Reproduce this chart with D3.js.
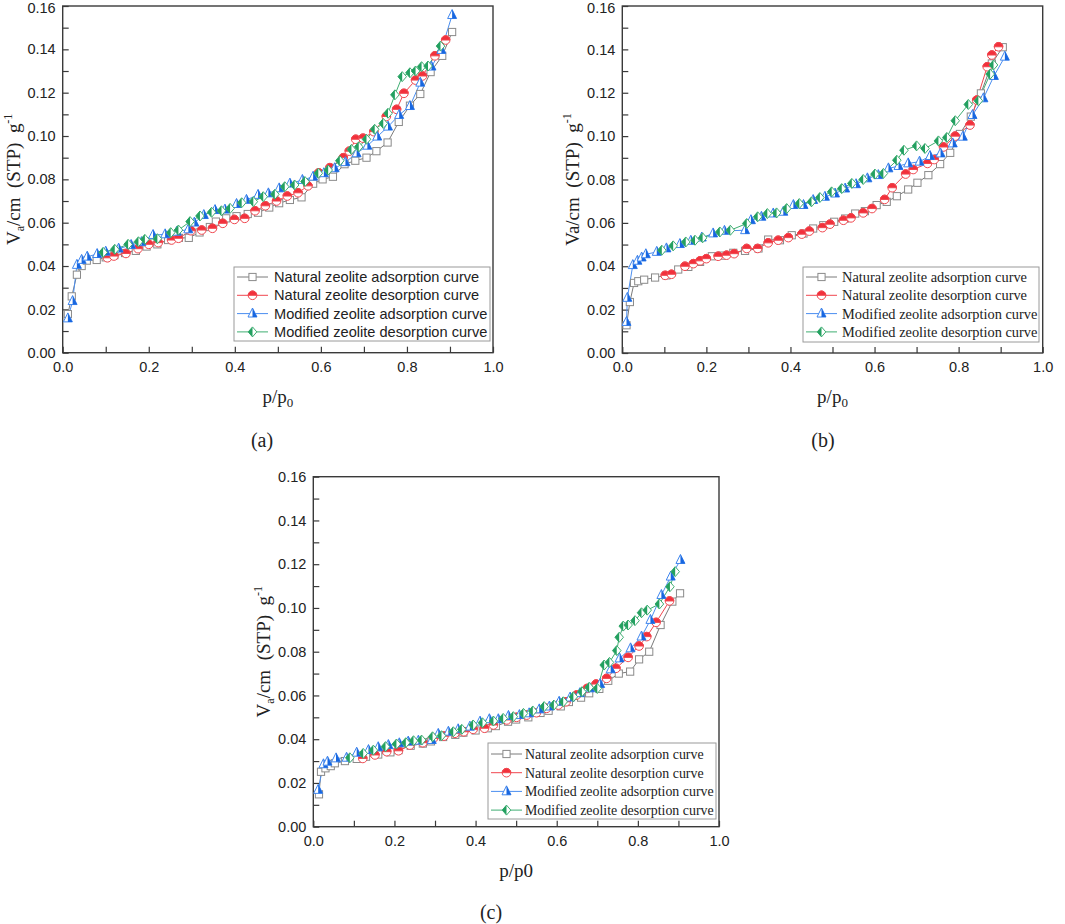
<!DOCTYPE html>
<html><head><meta charset="utf-8">
<script src="https://cdn.jsdelivr.net/npm/d3@7/dist/d3.min.js"></script>
<style>body{margin:0;background:#fff;} svg{display:block;background:#fff;}</style>
</head><body>
<svg id="chart" width="1065" height="924"></svg>
<script>
// ---------------- DATA ----------------
const seriesNames = ["Natural zeolite adsorption curve", "Natural zeolite desorption curve",
  "Modified zeolite adsorption curve", "Modified zeolite desorption curve"];
const xTickValues = [0, 0.2, 0.4, 0.6, 0.8, 1.0];
const xTickLabels = ["0.0", "0.2", "0.4", "0.6", "0.8", "1.0"];
const yTickValues = [0, 0.02, 0.04, 0.06, 0.08, 0.10, 0.12, 0.14, 0.16];
const yTickLabels = ["0.00", "0.02", "0.04", "0.06", "0.08", "0.10", "0.12", "0.14", "0.16"];
const panelCaptions = ["(a)", "(b)", "(c)"];

// panel (a)
const aNaturalAds = [[0.012,0.0178],[0.021,0.026],[0.033,0.036],[0.044,0.040],[0.056,0.0425],[0.079,0.0428],[0.10,0.044],[0.12,0.045],[0.145,0.046],[0.17,0.047],[0.195,0.049],[0.22,0.050],[0.245,0.052],[0.27,0.053],[0.293,0.053],[0.318,0.0555],[0.342,0.058],[0.356,0.0605],[0.38,0.062],[0.404,0.063],[0.43,0.064],[0.454,0.0646],[0.48,0.067],[0.503,0.069],[0.528,0.0705],[0.555,0.0717],[0.582,0.078],[0.604,0.080],[0.628,0.0812],[0.655,0.087],[0.680,0.0886],[0.706,0.090],[0.729,0.093],[0.755,0.097],[0.781,0.1065],[0.807,0.114],[0.831,0.1194],[0.855,0.1295],[0.882,0.137],[0.905,0.148]];
const aNaturalDes = [[0.104,0.0438],[0.119,0.0446],[0.147,0.0458],[0.175,0.048],[0.2,0.050],[0.222,0.0508],[0.253,0.052],[0.269,0.0528],[0.298,0.0563],[0.323,0.0566],[0.348,0.0574],[0.372,0.0597],[0.399,0.0615],[0.423,0.062],[0.447,0.0655],[0.471,0.0678],[0.497,0.070],[0.522,0.0723],[0.547,0.0738],[0.57,0.077],[0.595,0.083],[0.621,0.0854],[0.652,0.090],[0.666,0.093],[0.681,0.0985],[0.698,0.099],[0.723,0.102],[0.752,0.109],[0.776,0.1123],[0.793,0.1197],[0.820,0.1258],[0.836,0.1277],[0.865,0.137],[0.890,0.1443]];
const aModifiedAds = [[0.012,0.0158],[0.023,0.0238],[0.033,0.0405],[0.044,0.0428],[0.057,0.0443],[0.080,0.0455],[0.10,0.0466],[0.13,0.048],[0.159,0.0497],[0.183,0.051],[0.21,0.0543],[0.238,0.0546],[0.265,0.0558],[0.292,0.0569],[0.306,0.060],[0.328,0.0635],[0.354,0.0658],[0.377,0.066],[0.404,0.0686],[0.427,0.0705],[0.454,0.0728],[0.478,0.0735],[0.503,0.0758],[0.528,0.078],[0.557,0.0797],[0.582,0.0812],[0.607,0.0828],[0.632,0.0851],[0.657,0.0879],[0.683,0.092],[0.708,0.0955],[0.731,0.0997],[0.756,0.1043],[0.782,0.1097],[0.807,0.1138],[0.831,0.1246],[0.857,0.132],[0.88,0.1397],[0.905,0.1558]];
const aModifiedDes = [[0.094,0.0463],[0.121,0.0477],[0.152,0.050],[0.176,0.0512],[0.191,0.0523],[0.22,0.0526],[0.251,0.0554],[0.269,0.0566],[0.296,0.0605],[0.319,0.0631],[0.346,0.0648],[0.369,0.0655],[0.389,0.0666],[0.416,0.0692],[0.443,0.0697],[0.466,0.072],[0.493,0.0731],[0.516,0.0766],[0.539,0.0774],[0.563,0.079],[0.594,0.0828],[0.617,0.0843],[0.644,0.0886],[0.671,0.0938],[0.688,0.095],[0.706,0.0985],[0.725,0.1031],[0.745,0.1058],[0.756,0.1105],[0.772,0.119],[0.789,0.1274],[0.807,0.1292],[0.82,0.130],[0.834,0.132],[0.849,0.1323],[0.878,0.1415]];

// panel (b)
const bNaturalAds = [[0.010,0.0128],[0.018,0.0235],[0.028,0.0323],[0.038,0.0331],[0.052,0.0338],[0.078,0.0348],[0.105,0.0358],[0.133,0.0385],[0.157,0.0397],[0.185,0.042],[0.213,0.0446],[0.236,0.0449],[0.264,0.0462],[0.292,0.0471],[0.324,0.0482],[0.347,0.0523],[0.375,0.052],[0.403,0.0543],[0.431,0.0551],[0.454,0.0574],[0.478,0.0589],[0.504,0.0605],[0.53,0.062],[0.554,0.0643],[0.577,0.0654],[0.605,0.0682],[0.629,0.0697],[0.653,0.0723],[0.68,0.0754],[0.702,0.0785],[0.728,0.082],[0.756,0.0871],[0.78,0.0923],[0.803,0.101],[0.829,0.109],[0.853,0.1197],[0.879,0.1335],[0.905,0.141]];
const bNaturalDes = [[0.102,0.0358],[0.117,0.0363],[0.149,0.040],[0.169,0.0412],[0.185,0.0425],[0.2,0.0435],[0.228,0.0446],[0.248,0.0451],[0.266,0.0458],[0.296,0.0482],[0.322,0.0482],[0.347,0.0508],[0.371,0.052],[0.395,0.0532],[0.427,0.0548],[0.445,0.0562],[0.476,0.0578],[0.494,0.0594],[0.526,0.0612],[0.544,0.0623],[0.573,0.0646],[0.594,0.0666],[0.624,0.0708],[0.642,0.0762],[0.674,0.0825],[0.692,0.0846],[0.726,0.0874],[0.742,0.0892],[0.764,0.095],[0.792,0.100],[0.827,0.1051],[0.843,0.1166],[0.868,0.132],[0.879,0.1374],[0.895,0.1412]];
const bModifiedAds = [[0.010,0.0143],[0.012,0.0254],[0.025,0.0405],[0.036,0.0425],[0.046,0.044],[0.056,0.0455],[0.082,0.0466],[0.105,0.0482],[0.137,0.0502],[0.163,0.0517],[0.189,0.0532],[0.216,0.0551],[0.243,0.0563],[0.292,0.0566],[0.306,0.0612],[0.331,0.0628],[0.359,0.0643],[0.383,0.0651],[0.407,0.0682],[0.431,0.0682],[0.454,0.0705],[0.482,0.072],[0.506,0.0735],[0.53,0.0758],[0.556,0.0778],[0.583,0.0805],[0.609,0.082],[0.633,0.0851],[0.657,0.0862],[0.68,0.0874],[0.707,0.0882],[0.732,0.0908],[0.757,0.092],[0.786,0.0966],[0.81,0.0997],[0.833,0.1097],[0.859,0.1174],[0.884,0.1277],[0.91,0.1366]];
const bModifiedDes = [[0.094,0.0474],[0.121,0.0494],[0.151,0.0512],[0.173,0.052],[0.191,0.0531],[0.232,0.0558],[0.257,0.0566],[0.296,0.0597],[0.322,0.0628],[0.345,0.0643],[0.367,0.0646],[0.391,0.0666],[0.421,0.0689],[0.45,0.0697],[0.47,0.0717],[0.498,0.0743],[0.522,0.0758],[0.546,0.0782],[0.573,0.080],[0.601,0.0825],[0.621,0.0828],[0.653,0.0889],[0.67,0.0935],[0.7,0.0955],[0.72,0.0943],[0.752,0.0978],[0.772,0.0994],[0.792,0.1071],[0.823,0.1146],[0.847,0.1163],[0.875,0.1286],[0.883,0.1328]];

// panel (c)
const cNaturalAds = [[0.014,0.0148],[0.019,0.0251],[0.03,0.0267],[0.043,0.0277],[0.053,0.029],[0.078,0.030],[0.107,0.031],[0.13,0.032],[0.16,0.033],[0.19,0.034],[0.21,0.035],[0.24,0.037],[0.27,0.038],[0.29,0.039],[0.32,0.041],[0.35,0.042],[0.37,0.043],[0.40,0.044],[0.43,0.045],[0.45,0.046],[0.48,0.048],[0.50,0.049],[0.53,0.050],[0.56,0.052],[0.58,0.053],[0.61,0.055],[0.63,0.057],[0.66,0.059],[0.68,0.061],[0.705,0.063],[0.727,0.0667],[0.753,0.070],[0.781,0.0709],[0.803,0.0765],[0.828,0.080],[0.856,0.0922],[0.885,0.1029],[0.904,0.1067]];
const cNaturalDes = [[0.122,0.0312],[0.152,0.0328],[0.181,0.0343],[0.21,0.0347],[0.238,0.0373],[0.27,0.0384],[0.296,0.0404],[0.322,0.0414],[0.349,0.0427],[0.371,0.0434],[0.394,0.0445],[0.422,0.045],[0.444,0.0465],[0.477,0.0488],[0.501,0.050],[0.526,0.051],[0.55,0.0521],[0.575,0.0541],[0.604,0.0556],[0.623,0.0571],[0.649,0.0602],[0.675,0.0632],[0.697,0.0652],[0.723,0.0678],[0.746,0.0724],[0.776,0.0774],[0.803,0.0826],[0.822,0.0869],[0.845,0.0934],[0.878,0.1032]];
const cModifiedAds = [[0.012,0.0168],[0.025,0.0285],[0.035,0.0297],[0.056,0.0312],[0.082,0.0315],[0.107,0.0338],[0.136,0.035],[0.16,0.0363],[0.185,0.0373],[0.212,0.0381],[0.234,0.0389],[0.259,0.0393],[0.292,0.0396],[0.308,0.0424],[0.333,0.0434],[0.357,0.0445],[0.386,0.0457],[0.411,0.048],[0.434,0.0491],[0.456,0.0491],[0.481,0.0506],[0.508,0.051],[0.532,0.0518],[0.557,0.0536],[0.582,0.0549],[0.606,0.0571],[0.633,0.059],[0.657,0.061],[0.682,0.0632],[0.707,0.0652],[0.733,0.0719],[0.755,0.0769],[0.782,0.0815],[0.809,0.0869],[0.831,0.0945],[0.858,0.1059],[0.881,0.1143],[0.905,0.1219]];
const cModifiedDes = [[0.09,0.0315],[0.123,0.0335],[0.148,0.035],[0.178,0.0366],[0.205,0.0378],[0.228,0.0384],[0.247,0.0393],[0.267,0.0396],[0.294,0.0411],[0.316,0.0416],[0.345,0.0434],[0.366,0.0445],[0.394,0.0465],[0.417,0.0475],[0.444,0.0483],[0.468,0.0495],[0.493,0.0503],[0.518,0.0518],[0.541,0.0529],[0.569,0.0549],[0.593,0.0556],[0.616,0.0571],[0.641,0.0594],[0.662,0.0617],[0.68,0.0637],[0.7,0.0632],[0.717,0.0739],[0.73,0.0751],[0.748,0.0805],[0.754,0.0866],[0.764,0.0917],[0.776,0.0922],[0.793,0.0942],[0.809,0.0978],[0.823,0.099],[0.853,0.1018],[0.879,0.1097],[0.892,0.1166]];

// ---------------- STYLE ----------------
const styles = [
  {line:"#7a7a7a", stroke:"#8a8a8a", fill:"#8a8a8a", kind:"square"},
  {line:"#f0474f", stroke:"#f0474f", fill:"#f2303b", kind:"circle"},
  {line:"#4a8ef0", stroke:"#3f86ee", fill:"#1766e0", kind:"triangle"},
  {line:"#3fae72", stroke:"#3fae72", fill:"#23a060", kind:"diamond"}
];
const SANS = "'Liberation Sans', Arial, sans-serif";
const SERIF = "'Liberation Serif', 'Times New Roman', serif";

const svg = d3.select("#chart");

function drawMarker(g, kind, st, cx, cy) {
  const m = g.append("g").attr("transform", `translate(${cx},${cy})`);
  if (kind === "square") {
    m.append("rect").attr("x",-3.6).attr("y",-3.6).attr("width",7.2).attr("height",7.2)
      .attr("fill","#fff").attr("stroke",st.stroke).attr("stroke-width",1);
  } else if (kind === "circle") {
    const r = 4.3;
    m.append("circle").attr("r",r).attr("fill","#fff").attr("stroke",st.stroke).attr("stroke-width",1);
    m.append("path").attr("d",`M${-r},0 A${r},${r} 0 0 1 ${r},0 Z`).attr("fill",st.fill).attr("stroke",st.stroke).attr("stroke-width",1);
  } else if (kind === "triangle") {
    const s = 9;
    m.append("path").attr("d",`M0,${-0.62*s} L${s/2},${0.38*s} L${-s/2},${0.38*s} Z`)
      .attr("fill","#fff").attr("stroke",st.stroke).attr("stroke-width",1);
    m.append("path").attr("d",`M0,${-0.62*s} L${s/2},${0.38*s} L0,${0.38*s} Z`).attr("fill",st.fill);
  } else {
    const w = 4.3, h = 5;
    m.append("path").attr("d",`M0,${-h} L${w},0 L0,${h} L${-w},0 Z`)
      .attr("fill","#fff").attr("stroke",st.stroke).attr("stroke-width",1);
    m.append("path").attr("d",`M0,${-h} L0,${h} L${-w},0 Z`).attr("fill",st.fill);
  }
}

function drawPanel(p) {
  const g = svg.append("g");
  const x = d3.scaleLinear().domain([0,1]).range([p.left,p.right]);
  const y = d3.scaleLinear().domain([0,0.16]).range([p.bottom,p.top]);

  // frame
  g.append("rect").attr("x",p.left).attr("y",p.top).attr("width",p.right-p.left).attr("height",p.bottom-p.top)
    .attr("fill","none").attr("stroke","#3a3a3a").attr("stroke-width",1.4);

  // x axis
  const xAx = g.append("g").attr("transform",`translate(0,${p.bottom})`)
    .call(d3.axisBottom(x).tickValues(xTickValues).tickFormat((d,i)=>xTickLabels[i]).tickSize(-6).tickPadding(9));
  const xMinor = g.append("g").attr("transform",`translate(0,${p.bottom})`)
    .call(d3.axisBottom(x).tickValues(d3.range(0.1,1,0.2)).tickFormat("").tickSize(-6));
  // y axis
  const yAx = g.append("g").attr("transform",`translate(${p.left},0)`)
    .call(d3.axisLeft(y).tickValues(yTickValues).tickFormat((d,i)=>yTickLabels[i]).tickSize(-6).tickPadding(7));
  const yMinor = g.append("g").attr("transform",`translate(${p.left},0)`)
    .call(d3.axisLeft(y).tickValues(d3.range(0.01,0.16,0.02)).tickFormat("").tickSize(-6));
  [xAx,xMinor,yAx,yMinor].forEach(a=>{
    a.select(".domain").remove();
    a.selectAll(".tick line").attr("stroke","#3a3a3a").attr("stroke-width",1.2);
    a.selectAll("text").attr("font-family",SANS).attr("font-size","14.5px").attr("fill","#222");
  });
  // keep the top label fully inside the page
  if (p.top < 10) {
    yAx.selectAll(".tick").filter(d=>d===0.16).select("text").attr("dy","0.45em");
  }

  // axis titles
  const xt = g.append("text").attr("x",(p.left+p.right)/2).attr("y",p.bottom+50)
    .attr("text-anchor","middle").attr("font-family",SERIF).attr("font-size","19px").attr("fill","#222");
  xt.append("tspan").text("p/p");
  if (p.xSub) xt.append("tspan").attr("font-size","13px").attr("dy","4").text("0");
  else xt.append("tspan").text("0");

  const cy = (p.top+p.bottom)/2;
  const yt = g.append("text").attr("transform",`translate(${p.left-43},${cy}) rotate(-90)`)
    .attr("text-anchor","middle").attr("font-family",SERIF).attr("font-size","19px").attr("fill","#222");
  yt.append("tspan").text("V");
  if (p.ySub) {
    yt.append("tspan").attr("font-size","12px").attr("dy","4").text("a");
    yt.append("tspan").attr("dy","-4").text("/cm\u2002(STP)\u2002g");
  } else {
    yt.append("tspan").text("a/cm\u2002(STP)\u2002g");
  }
  yt.append("tspan").attr("font-size","12px").attr("dy","-8").text("-1");

  // series
  const lineGen = d3.line().x(d=>x(d[0])).y(d=>y(d[1]));
  p.series.forEach((s,i)=>{
    g.append("path").attr("d",lineGen(s)).attr("fill","none").attr("stroke",styles[i].line).attr("stroke-width",1);
  });
  p.series.forEach((s,i)=>{
    const mg = g.append("g");
    s.forEach(d=>drawMarker(mg, styles[i].kind, styles[i], x(d[0]), y(d[1])));
  });

  // legend
  const L = p.legend;
  g.append("rect").attr("x",L.x).attr("y",L.y).attr("width",L.w).attr("height",L.h)
    .attr("fill","#fff").attr("stroke","#9a9a9a").attr("stroke-width",1);
  seriesNames.forEach((name,i)=>{
    const ry = L.y + L.row0 + i*L.dy;
    g.append("line").attr("x1",L.x+3).attr("x2",L.x+3+L.lineLen).attr("y1",ry).attr("y2",ry)
      .attr("stroke",styles[i].line).attr("stroke-width",1);
    drawMarker(g, styles[i].kind, styles[i], L.x+3+L.lineLen/2, ry);
    g.append("text").attr("x",L.x+L.textOff).attr("y",ry).attr("dy","0.35em")
      .attr("font-family",L.font).attr("font-size",L.fs).attr("fill","#222").text(name);
  });

  // caption
  g.append("text").attr("x",p.capX).attr("y",p.capY).attr("text-anchor","middle")
    .attr("font-family",SERIF).attr("font-size","20px").attr("fill","#222").text(p.caption);
}

drawPanel({left:62.7,right:493,top:6,bottom:352.7,xSub:true,ySub:true,
  series:[aNaturalAds,aNaturalDes,aModifiedAds,aModifiedDes],
  legend:{x:234,y:267,w:256,h:74,row0:10,dy:18.3,lineLen:31,textOff:40,font:SANS,fs:"14.6px"},
  caption:panelCaptions[0],capX:262,capY:447});
drawPanel({left:622.3,right:1042.7,top:6,bottom:353,xSub:true,ySub:false,
  series:[bNaturalAds,bNaturalDes,bModifiedAds,bModifiedDes],
  legend:{x:803,y:267,w:236,h:75,row0:10,dy:18.3,lineLen:31,textOff:39,font:SERIF,fs:"14.4px"},
  caption:panelCaptions[1],capX:823,capY:447});
drawPanel({left:313.3,right:719,top:476.7,bottom:826.7,xSub:false,ySub:true,
  series:[cNaturalAds,cNaturalDes,cModifiedAds,cModifiedDes],
  legend:{x:488,y:743,w:228,h:76,row0:11,dy:18.7,lineLen:31,textOff:37,font:SERIF,fs:"13.9px"},
  caption:panelCaptions[2],capX:491,capY:919});
</script>
</body></html>
